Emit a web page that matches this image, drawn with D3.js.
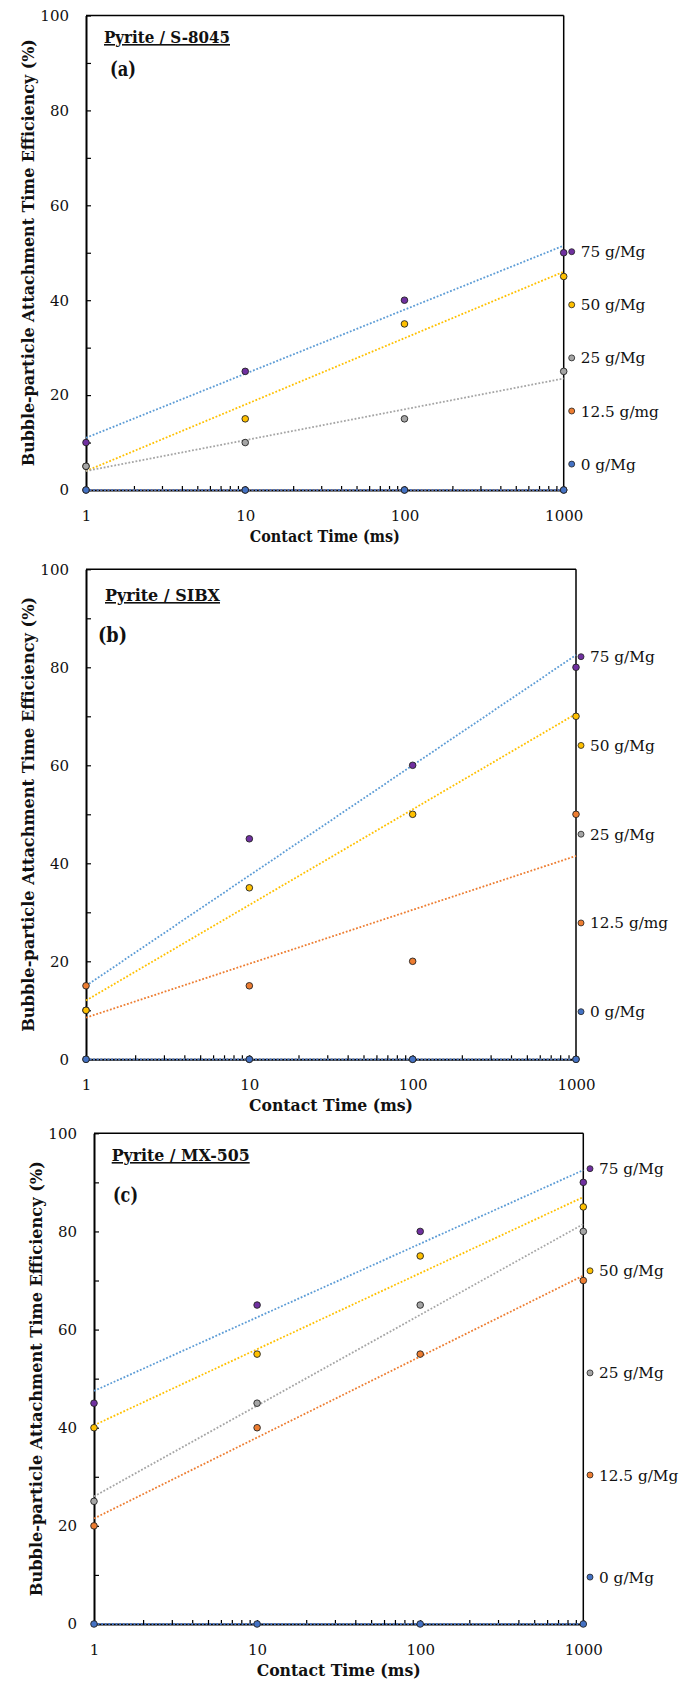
<!DOCTYPE html>
<html>
<head>
<meta charset="utf-8">
<script src="https://cdn.jsdelivr.net/npm/d3@7"></script>
<style>
  body { margin: 0; background: #fff; }
  text { font-family: "DejaVu Serif", serif; fill: #111; }
</style>
</head>
<body>
<div class="canvas"></div>
<script>
// data

const contactTime = [1, 10, 100, 1000];
const xTickLabels = [1, 10, 100, 1000];
const yTickLabels = [0, 20, 40, 60, 80, 100];

const seriesNames = ['75 g/Mg', '50 g/Mg', '25 g/Mg', '12.5 g/mg', '0 g/Mg'];
const seriesNamesC = ['75 g/Mg', '50 g/Mg', '25 g/Mg', '12.5 g/Mg', '0 g/Mg'];

// (a) Pyrite / S-8045
const a75 = [10, 25, 40, 50];
const a50 = [5, 15, 35, 45];
const a25 = [5, 10, 15, 25];
const a12 = [0, 0, 0, 0];
const a0 = [0, 0, 0, 0];

// (b) Pyrite / SIBX
const b75 = [10, 45, 60, 80];
const b50 = [10, 35, 50, 70];
const b25 = [0, 0, 0, 0];
const b12 = [15, 15, 20, 50];
const b0 = [0, 0, 0, 0];

// (c) Pyrite / MX-505
const c75 = [45, 65, 80, 90];
const c50 = [40, 55, 75, 85];
const c25 = [25, 45, 65, 80];
const c12 = [20, 40, 55, 70];
const c0 = [0, 0, 0, 0];

// styles: marker fill and trendline colour per series (same order as names)
const markerColors = ['#7030A0', '#FFC000', '#A5A5A5', '#ED7D31', '#4472C4'];
const trendColors = ['#5B9BD5', '#FFC000', '#A5A5A5', '#ED7D31', '#4472C4'];

// layout of the three panels (pixels)
const panels = [
    {title: 'Pyrite / S-8045', tag: '(a)', names: seriesNames, values: [a75, a50, a25, a12, a0],
     left: 86, right: 563.7, top: 15.5, bottom: 490,
     titleX: 104, titleY: 43, titleW: 126, tagX: 110, tagY: 76, tagW: 26,
     yTitleX: 33.5, yTitleW: 427, xTitleW: 150,
     legX: 571.7, legY: 251.7, legStep: 53.1},
    {title: 'Pyrite / SIBX', tag: '(b)', names: seriesNames, values: [b75, b50, b25, b12, b0],
     left: 86, right: 576, top: 569.3, bottom: 1059.3,
     titleX: 105, titleY: 601, titleW: 115, tagX: 98, tagY: 642, tagW: 29,
     yTitleX: 34, yTitleW: 435, xTitleW: 164,
     legX: 581, legY: 656.7, legStep: 88.75},
    {title: 'Pyrite / MX-505', tag: '(c)', names: seriesNamesC, values: [c75, c50, c25, c12, c0],
     left: 94, right: 583.3, top: 1133.3, bottom: 1624,
     titleX: 111.7, titleY: 1161, titleW: 138, tagX: 113, tagY: 1202, tagW: 25,
     yTitleX: 41.5, yTitleW: 435, xTitleW: 164,
     legX: 590, legY: 1168.7, legStep: 102.1}
];

const svg = d3.select('.canvas')
    .append('svg')
    .attr('width', 681)
    .attr('height', 1682);

// least squares on log10(time) -> Excel style logarithmic trendline
const logFit = (xs, ys) => {
    const lx = xs.map(v => Math.log10(v));
    const mx = d3.mean(lx), my = d3.mean(ys);
    let num = 0, den = 0;
    lx.forEach((v, i) => { num += (v - mx) * (ys[i] - my); den += (v - mx) * (v - mx); });
    const slope = den ? num / den : 0;
    const icpt = my - slope * mx;
    return t => icpt + slope * Math.log10(t);
};

panels.forEach(p => {
    const g = svg.append('g');

    const x = d3.scaleLog().domain([1, 1000]).range([p.left, p.right]);
    const y = d3.scaleLinear().domain([0, 100]).range([p.bottom, p.top]);

    // frame: thin top/right
    g.append('line').attr('x1', p.left).attr('x2', p.right).attr('y1', p.top).attr('y2', p.top)
        .attr('stroke', '#000').attr('stroke-width', 1.5);
    g.append('line').attr('x1', p.right).attr('x2', p.right).attr('y1', p.top).attr('y2', p.bottom)
        .attr('stroke', '#000').attr('stroke-width', 1.5);

    // axes with inward ticks
    const xMinor = [];
    [1, 10, 100].forEach(d => { for (let k = 1; k < 10; k++) xMinor.push(d * k); });
    xMinor.push(1000);

    const xAxis = d3.axisBottom(x)
        .tickValues(xMinor)
        .tickFormat(d => xTickLabels.includes(d) ? d : '')
        .tickSizeInner(-4)
        .tickSizeOuter(0)
        .tickPadding(20);

    const yAxis = d3.axisLeft(y)
        .tickValues(d3.range(0, 101, 10))
        .tickFormat(d => yTickLabels.includes(d) ? d : '')
        .tickSizeInner(-5)
        .tickSizeOuter(0)
        .tickPadding(17);

    const xg = g.append('g').attr('transform', `translate(0, ${p.bottom})`).call(xAxis);
    const yg = g.append('g').attr('transform', `translate(${p.left}, 0)`).call(yAxis);

    [xg, yg].forEach(ax => {
        ax.attr('font-family', null);
        ax.select('.domain').attr('stroke', '#000').attr('stroke-width', 2);
        ax.selectAll('.tick line').attr('stroke', '#000').attr('stroke-width', 1.2);
        ax.selectAll('text').style('font-size', '15px').attr('fill', '#1a1a1a');
    });

    // trendlines
    const line = d3.line().x(d => x(d.t)).y(d => y(d.v));
    p.values.forEach((vals, i) => {
        const f = logFit(contactTime, vals);
        const pts = d3.range(0, 3.0001, 0.05).map(e => ({t: Math.pow(10, e), v: f(Math.pow(10, e))}));
        g.append('path')
            .datum(pts)
            .attr('fill', 'none')
            .attr('stroke', trendColors[i])
            .attr('stroke-width', 1.8)
            .attr('stroke-dasharray', '1.8,1.8')
            .attr('d', line);
    });

    // points: 75 first, 0 last (later ones on top)
    p.values.forEach((vals, i) => {
        g.selectAll(null)
            .data(vals.map((v, k) => ({t: contactTime[k], v: v})))
            .enter()
            .append('circle')
            .attr('cx', d => x(d.t))
            .attr('cy', d => y(d.v))
            .attr('r', 3.3)
            .attr('fill', markerColors[i])
            .attr('stroke', '#222')
            .attr('stroke-width', 0.9);
    });

    // legend on the right
    p.names.forEach((name, i) => {
        const ly = p.legY + i * p.legStep;
        g.append('circle')
            .attr('cx', p.legX).attr('cy', ly).attr('r', 3)
            .attr('fill', markerColors[i])
            .attr('stroke', '#222').attr('stroke-width', 0.8);
        g.append('text')
            .attr('x', p.legX + 9).attr('y', ly)
            .attr('dy', '0.36em')
            .style('font-size', '15.3px')
            .text(name);
    });

    // panel labels
    g.append('text')
        .attr('x', p.titleX).attr('y', p.titleY)
        .attr('textLength', p.titleW).attr('lengthAdjust', 'spacingAndGlyphs')
        .style('font-size', '16px').style('font-weight', 'bold')
        .style('text-decoration', 'underline')
        .text(p.title);
    g.append('text')
        .attr('x', p.tagX).attr('y', p.tagY)
        .attr('textLength', p.tagW).attr('lengthAdjust', 'spacingAndGlyphs')
        .style('font-size', '20px').style('font-weight', 'bold')
        .text(p.tag);

    // axis titles
    g.append('text')
        .attr('x', (p.left + p.right) / 2 - p.xTitleW / 2).attr('y', p.bottom + 52)
        .attr('textLength', p.xTitleW).attr('lengthAdjust', 'spacingAndGlyphs')
        .style('font-size', '16px').style('font-weight', 'bold')
        .text('Contact Time (ms)');
    g.append('text')
        .attr('transform', `translate(${p.yTitleX}, ${(p.top + p.bottom) / 2 + p.yTitleW / 2}) rotate(-90)`)
        .attr('textLength', p.yTitleW).attr('lengthAdjust', 'spacingAndGlyphs')
        .style('font-size', '17px').style('font-weight', 'bold')
        .text('Bubble-particle Attachment Time Efficiency (%)');
});
</script>
</body>
</html>
